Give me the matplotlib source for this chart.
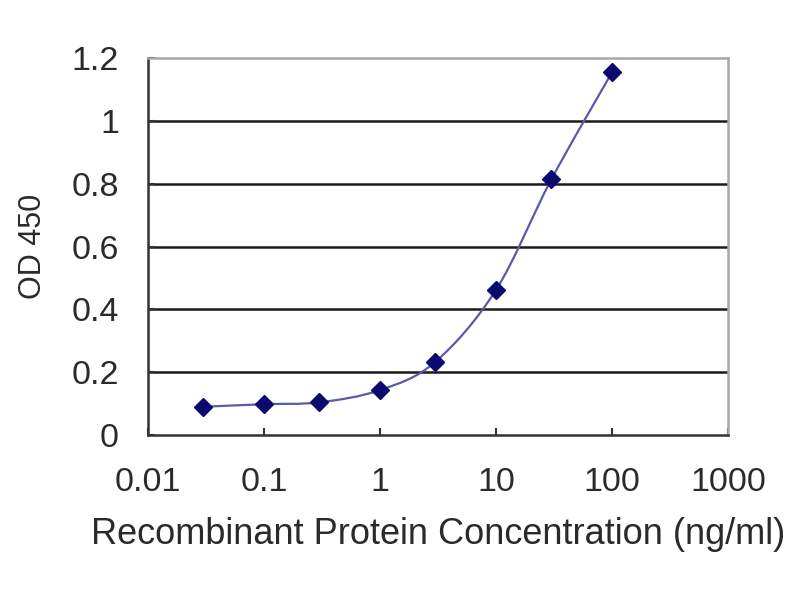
import numpy as np
import matplotlib
matplotlib.use("Agg")
import matplotlib.pyplot as plt
from matplotlib.path import Path
from matplotlib.patches import PathPatch

conc = [0.03, 0.1, 0.3, 1, 3, 10, 30, 100]
od450 = [0.090, 0.098, 0.104, 0.143, 0.233, 0.462, 0.814, 1.155]
xticks = [0.01, 0.1, 1, 10, 100, 1000]
xtick_labels = ["0.01", "0.1", "1", "10", "100", "1000"]
yticks = [0, 0.2, 0.4, 0.6, 0.8, 1.0, 1.2]
ytick_labels = ["0", "0.2", "0.4", "0.6", "0.8", "1", "1.2"]

plt.rcParams['font.family'] = ['Liberation Sans', 'DejaVu Sans']

fig = plt.figure(figsize=(8, 6), dpi=100)
ax = fig.add_axes([0.185, 0.275, 0.725, 0.628])
ax.set_xscale('log')
ax.set_xlim(0.01, 1000)
ax.set_ylim(0, 1.2)

# horizontal gridlines
for yv in yticks[1:-1]:
    ax.axhline(yv, color='#1a1a1a', lw=1.8, zorder=1)

# smoothed line (Catmull-Rom style Bezier in log-x space)
lx = np.log10(conc)
yy = np.array(od450)
n = len(lx)
verts = [(conc[0], yy[0])]
codes = [Path.MOVETO]
for i in range(n - 1):
    p0 = (lx[max(i - 1, 0)], yy[max(i - 1, 0)])
    p1 = (lx[i], yy[i])
    p2 = (lx[i + 1], yy[i + 1])
    p3 = (lx[min(i + 2, n - 1)], yy[min(i + 2, n - 1)])
    c1 = (p1[0] + (p2[0] - p0[0]) / 6, p1[1] + (p2[1] - p0[1]) / 6)
    c2 = (p2[0] - (p3[0] - p1[0]) / 6, p2[1] - (p3[1] - p1[1]) / 6)
    for c in (c1, c2, p2):
        verts.append((10 ** c[0], c[1]))
    codes += [Path.CURVE4] * 3
ax.add_patch(PathPatch(Path(verts, codes), fill=False, edgecolor='#5a5aa8',
                       lw=1.6, transform=ax.transData, zorder=3))
ax.plot(conc, od450, linestyle='none', marker='D', markersize=9.5,
        color='#0a0a6e', zorder=4)

ax.set_xticks(xticks)
ax.set_xticklabels(xtick_labels)
ax.xaxis.set_minor_locator(matplotlib.ticker.NullLocator())
ax.set_yticks(yticks)
ax.set_yticklabels(ytick_labels)

ax.tick_params(axis='x', direction='in', length=5, width=1.5, color='#333333',
               labelsize=24.5, labelcolor='#2a2a2a', pad=23)
ax.tick_params(axis='y', direction='in', length=5, width=1.5, color='#333333',
               labelsize=24.5, labelcolor='#2a2a2a', pad=21)

for s in ('left', 'bottom'):
    ax.spines[s].set_color('#333333')
    ax.spines[s].set_linewidth(1.8)
for s in ('top', 'right'):
    ax.spines[s].set_color('#a8a8a8')
    ax.spines[s].set_linewidth(1.8)

ax.set_xlabel('Recombinant Protein Concentration (ng/ml)', fontsize=26,
              color='#2a2a2a', labelpad=14)
ax.set_ylabel('OD 450', fontsize=22, color='#2a2a2a', labelpad=17)

fig.savefig('out.png', dpi=100)
